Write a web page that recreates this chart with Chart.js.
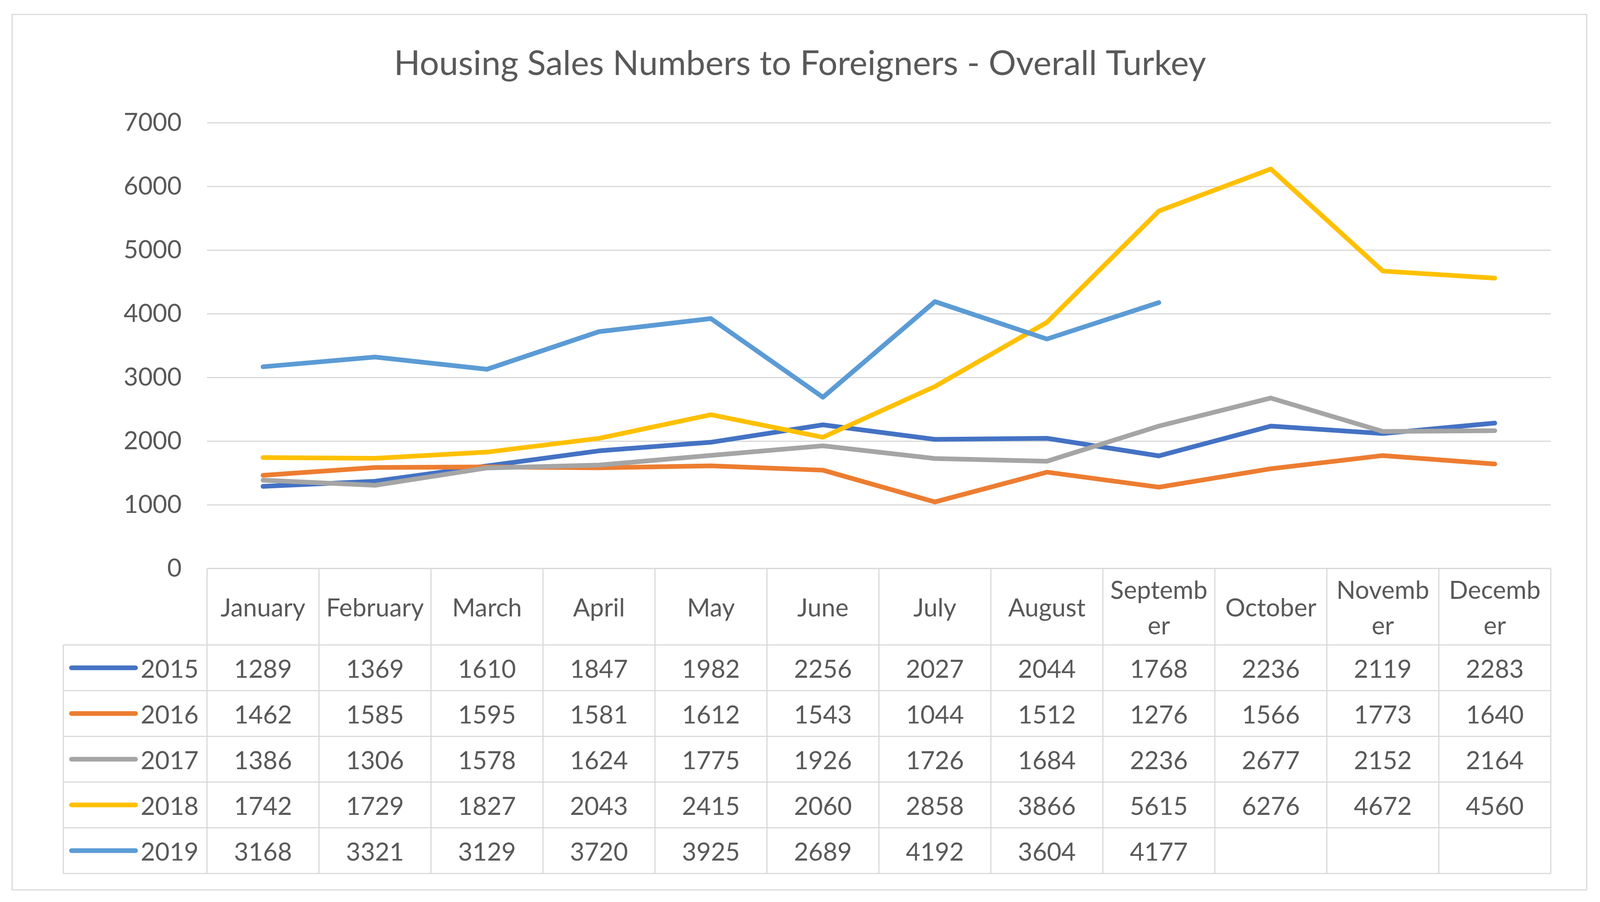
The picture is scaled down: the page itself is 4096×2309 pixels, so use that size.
<!DOCTYPE html>
<html>
<head>
<meta charset="utf-8">
<script src="https://cdn.jsdelivr.net/npm/chart.js@4.4.1/dist/chart.umd.min.js"></script>
<style>
    html, body { margin: 0; padding: 0; background: #ffffff; }
    canvas { display: block; }
</style>
</head>
<body>
<canvas id="salesChart" width="4096" height="2309"></canvas>
<script>
const months = ["January", "February", "March", "April", "May", "June", "July", "August",
    ["Septemb", "er"], "October", ["Novemb", "er"], ["Decemb", "er"]];
const years = ["2015", "2016", "2017", "2018", "2019"];

const sales2015 = [1289, 1369, 1610, 1847, 1982, 2256, 2027, 2044, 1768, 2236, 2119, 2283];
const sales2016 = [1462, 1585, 1595, 1581, 1612, 1543, 1044, 1512, 1276, 1566, 1773, 1640];
const sales2017 = [1386, 1306, 1578, 1624, 1775, 1926, 1726, 1684, 2236, 2677, 2152, 2164];
const sales2018 = [1742, 1729, 1827, 2043, 2415, 2060, 2858, 3866, 5615, 6276, 4672, 4560];
const sales2019 = [3168, 3321, 3129, 3720, 3925, 2689, 4192, 3604, 4177, null, null, null];

const yTicks = [0, 1000, 2000, 3000, 4000, 5000, 6000, 7000];

const seriesValues = [sales2015, sales2016, sales2017, sales2018, sales2019];
const seriesColors = ["#4472C4", "#ED7D31", "#A5A5A5", "#FFC000", "#5B9BD5"];

const textColor = "#595959";
const lineColor = "#d9d9d9";
const fontFamily = "Lato, 'Open Sans', sans-serif";

// white background + chart area border
const frame = {
    id: "frame",
    beforeDraw(chart) {
        const ctx = chart.ctx;
        ctx.save();
        ctx.fillStyle = "#ffffff";
        ctx.fillRect(0, 0, chart.width, chart.height);
        ctx.strokeStyle = lineColor;
        ctx.lineWidth = 3;
        ctx.strokeRect(31, 37, 4031, 2241);
        ctx.restore();
    },
};

// excel style data table under the plot
const dataTable = {
    id: "dataTable",
    afterDraw(chart) {
        const ctx = chart.ctx;
        const area = chart.chartArea;
        const xScale = chart.scales.x;
        const colW = (area.right - area.left) / months.length;
        const top = area.bottom;
        const headerH = 196;
        const rowH = 117;
        const legendLeft = 162;
        const bottom = top + headerH + rowH * years.length;

        ctx.save();
        ctx.strokeStyle = lineColor;
        ctx.lineWidth = 3;
        ctx.beginPath();
        ctx.moveTo(area.left, top);
        ctx.lineTo(area.right, top);
        for (let r = 0; r <= years.length; r++) {
            const y = top + headerH + r * rowH;
            ctx.moveTo(legendLeft, y);
            ctx.lineTo(area.right, y);
        }
        for (let c = 0; c <= months.length; c++) {
            const x = area.left + c * colW;
            ctx.moveTo(x, top);
            ctx.lineTo(x, bottom);
        }
        ctx.moveTo(legendLeft, top + headerH);
        ctx.lineTo(legendLeft, bottom);
        ctx.stroke();

        ctx.fillStyle = textColor;
        ctx.font = "64px " + fontFamily;
        ctx.textAlign = "center";
        ctx.textBaseline = "middle";

        // header
        months.forEach((m, i) => {
            const cx = xScale.getPixelForValue(i);
            const cy = top + headerH / 2 + 4;
            if (Array.isArray(m)) {
                ctx.fillText(m[0], cx, cy - 45);
                ctx.fillText(m[1], cx, cy + 46);
            } else {
                ctx.fillText(m, cx, cy);
            }
        });

        // rows
        years.forEach((year, r) => {
            const cy = top + headerH + r * rowH + rowH / 2;

            ctx.strokeStyle = seriesColors[r];
            ctx.lineWidth = 12;
            ctx.lineCap = "round";
            ctx.beginPath();
            ctx.moveTo(183, cy);
            ctx.lineTo(347, cy);
            ctx.stroke();

            ctx.textAlign = "left";
            ctx.fillText(year, 360, cy + 5);

            ctx.textAlign = "center";
            seriesValues[r].forEach((v, i) => {
                if (v === null) return;
                ctx.fillText(String(v), xScale.getPixelForValue(i), cy + 5);
            });
        });
        ctx.restore();
    },
};

new Chart(document.getElementById("salesChart"), {
    type: "line",

    data: {
        labels: months,

        datasets: years.map((year, i) => ({
            label: year,
            data: seriesValues[i],
            borderColor: seriesColors[i],
            backgroundColor: seriesColors[i],
            borderWidth: 12,
            borderCapStyle: "round",
            borderJoinStyle: "round",
            pointRadius: 0,
            tension: 0,
            spanGaps: false,
            order: years.length - i,
        })),
    },

    options: {
        responsive: false,
        animation: false,
        devicePixelRatio: 1,

        // equal side padding so the title is centred on the canvas
        layout: {
            padding: { top: 0, right: 126, bottom: 854, left: 126 },
        },

        plugins: {
            legend: { display: false },
            tooltip: { enabled: false },
            title: {
                display: true,
                text: "Housing Sales Numbers to Foreigners - Overall Turkey",
                color: textColor,
                font: { family: fontFamily, size: 88, weight: "normal" },
                padding: { top: 111, bottom: 98 },
            },
        },

        scales: {
            x: {
                display: false,
                offset: true,
            },
            y: {
                min: yTicks[0],
                max: yTicks[yTicks.length - 1],
                afterFit: (scale) => {
                    scale.width = 404;
                },
                ticks: {
                    stepSize: yTicks[1] - yTicks[0],
                    color: textColor,
                    padding: 65,
                    font: { family: fontFamily, size: 64 },
                    callback: (value) => String(value),
                },
                grid: {
                    color: lineColor,
                    lineWidth: 3,
                    drawTicks: false,
                },
                border: { display: false },
            },
        },
    },

    plugins: [frame, dataTable],
});
</script>
</body>
</html>
